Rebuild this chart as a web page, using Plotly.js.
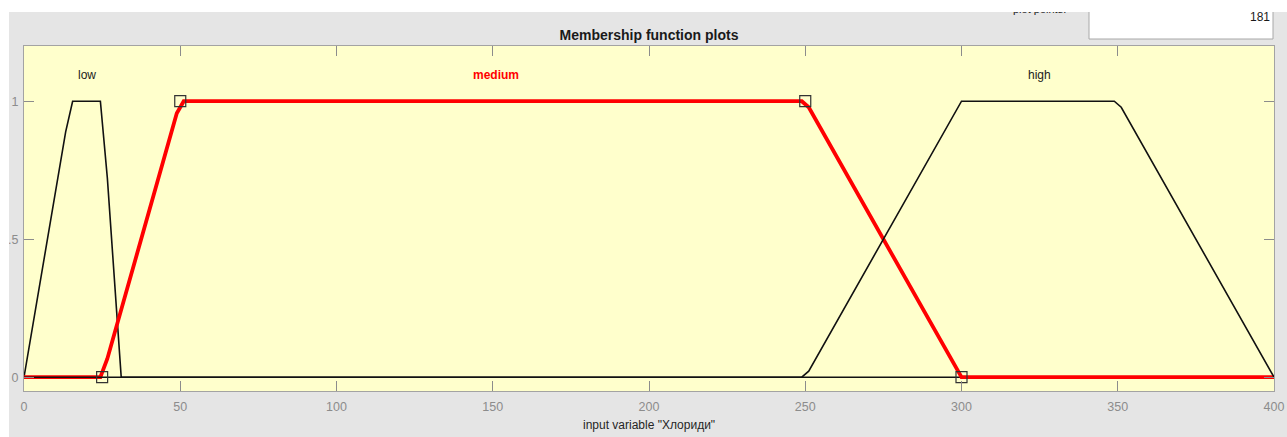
<!DOCTYPE html>
<html><head><meta charset="utf-8">
<script src="https://cdn.plot.ly/plotly-3.0.1.min.js"></script>
<style>
html,body{margin:0;padding:0;background:#ffffff;width:1287px;height:437px;overflow:hidden}
#plot{position:absolute;left:9px;top:12px;width:1278px;height:425px}
</style>
</head><body><div id="plot"></div>
<script>
// membership functions of input variable "Хлориди" (sampled with 181 plot points)
const lowX    = [0, 13.33, 15.56, 24.44, 26.67, 28.89, 31.11, 400];
const lowY    = [0, 0.889, 1, 1, 0.722, 0.352, 0, 0];
const mediumX = [0, 24.44, 26.67, 48.89, 51.11, 248.89, 251.11, 300, 400];
const mediumY = [0, 0, 0.067, 0.956, 1, 1, 0.978, 0, 0];
const highX   = [0, 248.89, 251.11, 300, 348.89, 351.11, 400];
const highY   = [0, 0, 0.022, 1, 1, 0.978, 0];
const paramX  = [25, 50, 250, 300];
const paramY  = [0, 1, 1, 0];
const mfNames = ['low', 'medium', 'high'];
const mfLabelX = [20, 151, 325];
const mfLabelY = 1.095;
const xTicks = [0, 50, 100, 150, 200, 250, 300, 350, 400];
const yTicks = [0, 0.5, 1];
const yTickText = ['0', '0.5', '1'];
const plotPoints = '181';

const W = 1278, H = 425, L = 15, R = 13, T = 34, B = 46;
const pw = W - L - R, ph = H - T - B;
const pxX = p => (p - L) / pw;
const pxY = p => 1 - (p - T) / ph;

const font = 'Liberation Sans, Arial, sans-serif';

const traces = [
  {x: lowX, y: lowY, type: 'scatter', mode: 'lines', line: {color: '#111111', width: 1.6}, hoverinfo: 'skip'},
  {x: mediumX, y: mediumY, type: 'scatter', mode: 'lines', line: {color: '#ff0000', width: 3.8}, hoverinfo: 'skip'},
  {x: highX, y: highY, type: 'scatter', mode: 'lines', line: {color: '#111111', width: 1.6}, hoverinfo: 'skip'},
  {x: paramX, y: paramY, type: 'scatter', mode: 'markers', cliponaxis: false,
   marker: {symbol: 'square-open', size: 11, color: '#333333', line: {width: 1.2}}, hoverinfo: 'skip'}
];

const axisCommon = {
  showline: true, linecolor: '#a3a3a3', linewidth: 1, mirror: 'ticks',
  ticks: 'inside', ticklen: 10, tickcolor: '#8c8c8c', tickwidth: 1,
  showgrid: false, zeroline: false, fixedrange: true,
  tickfont: {family: font, size: 12.5, color: '#8c8c8c'}
};

const annotations = mfNames.map((n, i) => ({
  x: mfLabelX[i], y: mfLabelY, xref: 'x', yref: 'y', text: i === 1 ? '<b>' + n + '</b>' : n,
  showarrow: false, font: {family: font, size: 12, color: i === 1 ? '#ff0000' : '#1a1a1a'}
}));
annotations.push({
  xref: 'paper', yref: 'paper', x: pxX(1059), y: pxY(5), xanchor: 'right', yanchor: 'bottom',
  text: 'plot points:', showarrow: false, font: {family: font, size: 11, color: '#1a1a1a'}
});
annotations.push({
  xref: 'paper', yref: 'paper', x: pxX(1263), y: pxY(5), xanchor: 'right', yanchor: 'middle',
  text: plotPoints, showarrow: false, font: {family: font, size: 12, color: '#1a1a1a'}
});
annotations.push({
  xref: 'paper', yref: 'paper', x: 0.5, y: pxY(413), xanchor: 'center', yanchor: 'middle',
  text: 'input variable "Хлориди"', showarrow: false, font: {family: font, size: 12, color: '#262626'}
});

const layout = {
  width: W, height: H,
  margin: {l: L, r: R, t: T, b: B, pad: 0},
  paper_bgcolor: '#e5e5e5', plot_bgcolor: '#ffffcc',
  showlegend: false,
  title: {text: '<b>Membership function plots</b>', font: {family: font, size: 14, color: '#1a1a1a'},
          x: 0.5, xref: 'container', xanchor: 'center', y: 1 - 23 / H, yref: 'container', yanchor: 'middle'},
  xaxis: Object.assign({}, axisCommon, {range: [0, 400], tickvals: xTicks, ticktext: xTicks.map(String), ticklabelstandoff: 4}),
  yaxis: Object.assign({}, axisCommon, {range: [-0.05, 1.2], tickvals: yTicks, ticktext: yTickText, ticklabelstandoff: 2}),
  annotations: annotations,
  shapes: [{
    type: 'rect', xref: 'paper', yref: 'paper', layer: 'below',
    x0: pxX(1080), x1: pxX(1264), y0: pxY(27), y1: pxY(-10),
    fillcolor: '#ffffff', line: {color: '#a8a8a8', width: 1}
  }]
};

layout.title.x = (L + pw / 2) / W;

Plotly.newPlot('plot', traces, layout, {staticPlot: true, displayModeBar: false});
</script>
</body></html>
